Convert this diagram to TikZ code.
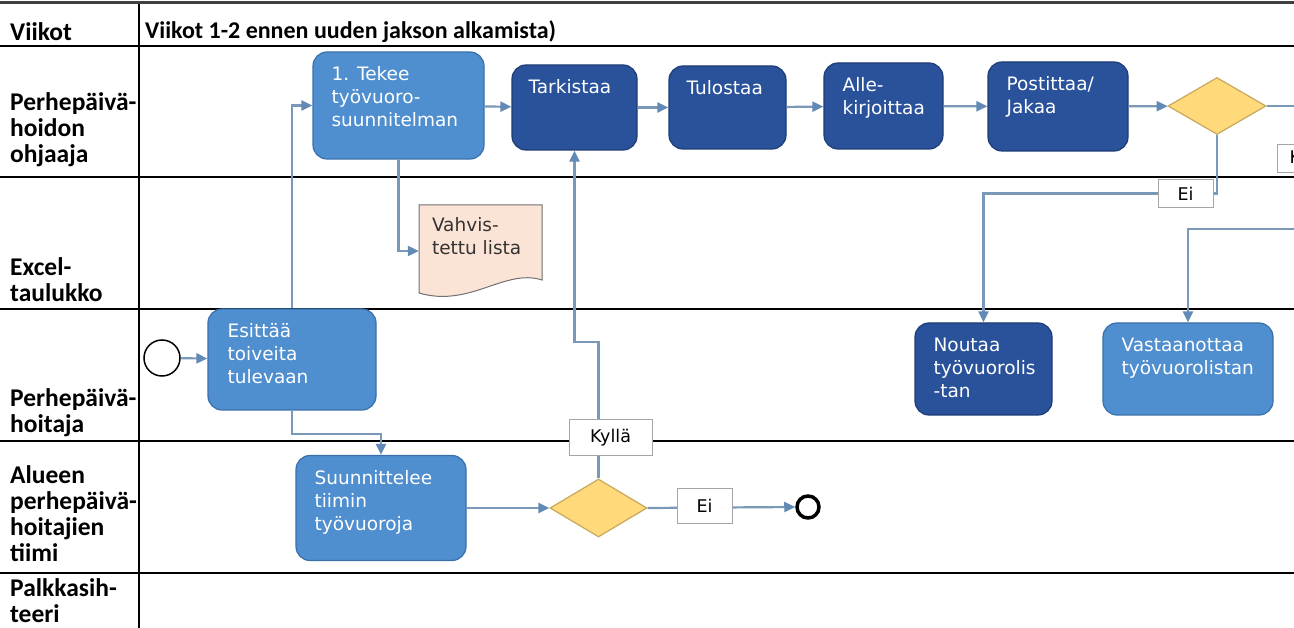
\documentclass[tikz,border=0pt]{standalone}
\usepackage{fontspec}
\setmainfont{Carlito}
\newfontfamily\boxfont{DejaVu Sans}
\usetikzlibrary{shapes.geometric,arrows.meta}

\definecolor{midblue}{RGB}{79,142,207}
\definecolor{midblueline}{RGB}{58,112,170}
\definecolor{darkblue}{RGB}{42,82,155}
\definecolor{darkblueline}{RGB}{30,60,118}
\definecolor{gatefill}{RGB}{255,217,122}
\definecolor{gateline}{RGB}{200,168,92}
\definecolor{connline}{RGB}{122,153,185}
\definecolor{conntip}{RGB}{98,138,182}
\definecolor{docfill}{RGB}{251,228,213}
\definecolor{docline}{RGB}{112,112,112}
\definecolor{tagline}{RGB}{165,165,165}

\begin{document}
\begin{tikzpicture}[x=1pt,y=-1pt,
  lane/.style={draw=black,line width=1.6pt},
  topline/.style={draw=black!75,line width=3pt},
  lanelbl/.style={anchor=west,align=left,inner sep=0pt,
    font=\bfseries\fontsize{25.5}{26}\selectfont},
  task/.style={rectangle,rounded corners=14pt,line width=1.2pt,inner sep=0pt},
  lighttask/.style={task,fill=midblue,draw=midblueline},
  darktask/.style={task,fill=darkblue,draw=darkblueline},
  boxtxt/.style={anchor=north west,inner sep=0pt,xshift=19pt,yshift=-15pt,
    align=left,text=white,font=\boxfont\fontsize{18.5}{23}\selectfont},
  gate/.style={diamond,fill=gatefill,draw=gateline,line width=1.2pt,inner sep=0pt},
  conn/.style={draw=connline,line width=2.2pt,
    -{Triangle[length=11pt,width=10pt,fill=conntip,color=conntip]}},
  plain/.style={draw=connline,line width=2.2pt},
  tag/.style={rectangle,fill=white,draw=tagline,line width=1pt,inner sep=0pt,
    font=\boxfont\fontsize{17.5}{20}\selectfont}]

\useasboundingbox (0,0) rectangle (1294,628);
\clip (0,0) rectangle (1294,628);
\fill[white] (0,0) rectangle (1294,628);

% swimlane grid
\draw[lane] (0,46) -- (1294,46);
\draw[lane] (0,177) -- (1294,177);
\draw[lane] (0,309) -- (1294,309);
\draw[lane] (0,441) -- (1294,441);
\draw[lane] (0,573) -- (1294,573);
\draw[lane] (139,3) -- (139,628);
\draw[topline] (0,3) -- (1294,3);

% lane titles
\node[lanelbl] (lweeks) at (10,32) {Viikot};
\node[lanelbl,font=\bfseries\fontsize{24}{26}\selectfont] (lperiod) at (145,32) {Viikot 1-2 ennen uuden jakson alkamista)};
\node[lanelbl] (lsuper) at (10,130) {Perhepäivä-\\hoidon\\ohjaaja};
\node[lanelbl] (lexcel) at (10,280) {Excel-\\taulukko};
\node[lanelbl] (lcarer) at (10,413) {Perhepäivä-\\hoitaja};
\node[lanelbl] (lteam) at (10,514) {Alueen\\perhepäivä-\\hoitajien\\tiimi};
\node[lanelbl] (lpay) at (10,601) {Palkkasih-\\teeri};

% document shape of the confirmed list
\filldraw[fill=docfill,draw=docline,line width=1pt]
  (419,205) -- (542,205) -- (542,280)
  .. controls (505,268) and (470,308) .. (419,293) -- cycle;

% tasks
\node[lighttask,minimum width=171pt,minimum height=107pt,
  label={[boxtxt]north west:{1. Tekee\\työvuoro-\\suunnitelman}}] (plan) at (398.5,105.5) {};
\node[darktask,minimum width=125pt,minimum height=85pt,
  label={[boxtxt,xshift=-2pt]north west:{Tarkistaa}}] (check) at (574.5,107.5) {};
\node[darktask,minimum width=117pt,minimum height=83pt,
  label={[boxtxt,xshift=-1pt]north west:{Tulostaa}}] (print) at (727.5,107.5) {};
\node[darktask,minimum width=119pt,minimum height=86pt,
  label={[boxtxt]north west:{Alle-\\kirjoittaa}}] (sign) at (883.5,106) {};
\node[darktask,minimum width=140pt,minimum height=89pt,
  label={[boxtxt]north west:{Postittaa/\\Jakaa}}] (post) at (1058,106.5) {};
\node[gate,minimum width=98pt,minimum height=57pt] (gtop) at (1217,106) {};

\node[draw=none,minimum width=123pt,minimum height=90pt,inner sep=0pt,
  label={[boxtxt,text=black!80,xshift=-6pt,yshift=4pt]north west:{Vahvis-\\tettu lista}}] (list) at (480.5,251) {};

\node[circle,draw=black,line width=1.5pt,minimum size=36pt,inner sep=0pt] (start) at (162,358) {};
\node[lighttask,minimum width=168pt,minimum height=101pt,
  label={[boxtxt,xshift=1pt]north west:{Esittää\\toiveita\\tulevaan}}] (wish) at (292,359.5) {};

\node[darktask,minimum width=137pt,minimum height=92pt,
  label={[boxtxt]north west:{Noutaa\\työvuorolis\\-tan}}] (fetch) at (983.5,369) {};
\node[lighttask,minimum width=170pt,minimum height=92pt,
  label={[boxtxt]north west:{Vastaanottaa\\työvuorolistan}}] (receive) at (1188,369) {};

\node[lighttask,minimum width=170pt,minimum height=105pt,
  label={[boxtxt]north west:{Suunnittelee\\tiimin\\työvuoroja}}] (team) at (381,508) {};
\node[gate,minimum width=97pt,minimum height=58pt] (gteam) at (598.5,508) {};
\node[circle,draw=black,line width=3.5pt,minimum size=22pt,inner sep=0pt] (stop) at (808,507) {};

% loose ends at the right border
\coordinate (outright) at (1294,106);
\coordinate (inright) at (1294,229);

% flows
\draw[conn] (start) -- (wish);
\draw[conn] (wish.north) |- (plan.west);
\draw[conn] (wish.south) -- ++(0,23) -| (team.north);
\draw[conn] (plan.south) |- (list.west);
\draw[conn] (plan) -- (check);
\draw[conn] (check) -- (print);
\draw[conn] (print) -- (sign);
\draw[conn] (sign) -- (post);
\draw[conn] (post) -- (gtop);
\draw[plain] (gtop.east) -- (outright);
\draw[conn] (gtop.south) -- ++(0,58.5) -| (fetch.north);
\draw[conn] (inright) -| (receive.north);
\draw[conn] (team) -- (gteam);
\draw[conn] (gteam.east) -- (stop.west);
\draw[conn] (gteam.north) -- ++(0,-136) -| (check.south);

% branch tags
\node[tag,minimum width=55pt,minimum height=28pt] (tagnoA) at (1185.5,194) {Ei};
\node[tag,minimum width=66pt,minimum height=28pt] (tagyesA) at (1310,159) {Kyllä};
\node[tag,minimum width=55pt,minimum height=35pt] (tagnoB) at (704.5,506) {Ei};
\node[tag,minimum width=83pt,minimum height=35pt] (tagyesB) at (610.5,437.5) {Kyllä};

\end{tikzpicture}
\end{document}
